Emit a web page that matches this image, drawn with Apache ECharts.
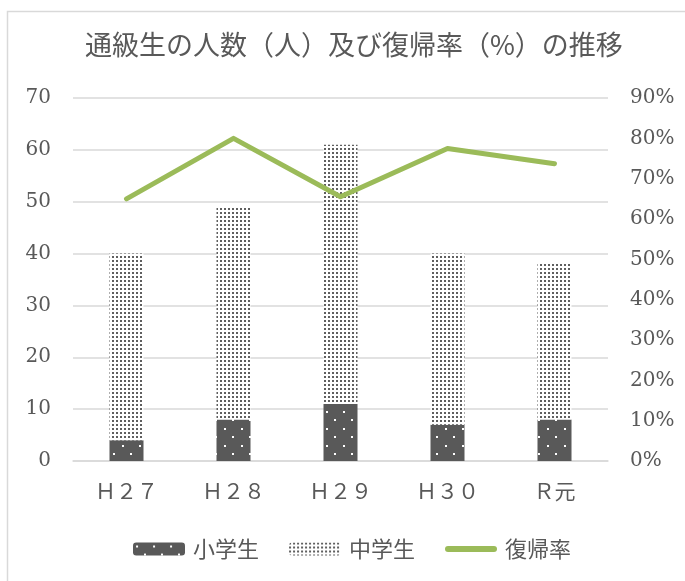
<!DOCTYPE html>
<html>
<head>
<meta charset="utf-8">
<script src="https://cdn.jsdelivr.net/npm/echarts@6/dist/echarts.min.js"></script>
<style>html,body{margin:0;padding:0;background:#fff}#c{width:685px;height:581px}</style>
</head>
<body>
<div id="c"></div>
<script>
var categories = ['Ｈ２７', 'Ｈ２８', 'Ｈ２９', 'Ｈ３０', 'Ｒ元'];
var elementary = [4, 8, 11, 7, 8];
var juniorHigh = [36, 41, 50, 33, 30];
var returnRate = [0.65, 0.80, 0.655, 0.775, 0.737];
var leftTicks = {min: 0, max: 70, interval: 10};
var rightTicks = {min: 0, max: 0.9, interval: 0.1};

function makePattern(w, h, bg, fg, dots, size) {
  var c = document.createElement('canvas');
  c.width = w; c.height = h;
  var ctx = c.getContext('2d');
  ctx.fillStyle = bg; ctx.fillRect(0, 0, w, h);
  ctx.fillStyle = fg;
  dots.forEach(function (d) { ctx.fillRect(d[0], d[1], size, size); });
  return {image: c, repeat: 'repeat'};
}
var darkPat = makePattern(17, 17, '#595959', '#ffffff', [[3, 3], [11, 11]], 2);
var lightPat = makePattern(4, 4, '#ffffff', '#5f5f5f', [[0, 0]], 2);

var serif = "'DejaVu Serif', 'Noto Sans CJK JP', serif";
var chart = echarts.init(document.getElementById('c'), null, {renderer: 'canvas'});
chart.setOption({
  animation: false,
  graphic: [{
    type: 'rect', left: 5, top: 9,
    shape: {width: 720, height: 620},
    style: {fill: 'none', stroke: '#d9d9d9', lineWidth: 1.5},
    silent: true
  }],
  title: {
    text: '通級生の人数（人）及び復帰率（%）の推移',
    left: 80, top: 26,
    textStyle: {fontFamily: "'Noto Sans CJK JP', sans-serif", fontSize: 27, fontWeight: 'normal', color: '#595959'}
  },
  legend: {
    bottom: 16, left: 128,
    itemWidth: 52, itemHeight: 13, itemGap: 30,
    textStyle: {fontFamily: "'Noto Sans CJK JP', sans-serif", fontSize: 22, color: '#595959', padding: [0, 0, 0, 3]},
    data: [
      {name: '小学生'},
      {name: '中学生'},
      {name: '復帰率', icon: 'path://M3,0 L49,0 A3,3 0 0 1 49,6 L3,6 A3,3 0 0 1 3,0 Z',
        itemStyle: {color: '#9bbb59'}, lineStyle: {width: 6, color: '#9bbb59', cap: 'round'}}
    ]
  },
  grid: {left: 73, right: 77, top: 98, bottom: 120},
  xAxis: {
    type: 'category', data: categories,
    axisLine: {lineStyle: {color: '#d9d9d9', width: 1.5}},
    axisTick: {show: false},
    axisLabel: {margin: 22, fontFamily: serif, fontSize: 21, color: '#595959'}
  },
  yAxis: [{
    type: 'value', min: leftTicks.min, max: leftTicks.max, interval: leftTicks.interval,
    axisLine: {show: false}, axisTick: {show: false},
    splitLine: {lineStyle: {color: '#d9d9d9', width: 1.5}},
    axisLabel: {margin: 22, fontFamily: serif, fontSize: 20, color: '#595959'}
  }, {
    type: 'value', min: rightTicks.min, max: rightTicks.max, interval: rightTicks.interval,
    axisLine: {show: false}, axisTick: {show: false}, splitLine: {show: false},
    axisLabel: {margin: 22, fontFamily: serif, fontSize: 20, color: '#595959',
      formatter: function (v) { return Math.round(v * 100) + '%'; }}
  }],
  series: [{
    name: '小学生', type: 'bar', stack: 's', data: elementary, barWidth: 34,
    itemStyle: {color: darkPat}
  }, {
    name: '中学生', type: 'bar', stack: 's', data: juniorHigh, barWidth: 34,
    itemStyle: {color: lightPat}
  }, {
    name: '復帰率', type: 'line', yAxisIndex: 1, data: returnRate,
    symbol: 'none', showSymbol: false,
    lineStyle: {color: '#9bbb59', width: 5, cap: 'round', join: 'round'},
    itemStyle: {color: '#9bbb59'}
  }]
});
</script>
</body>
</html>
